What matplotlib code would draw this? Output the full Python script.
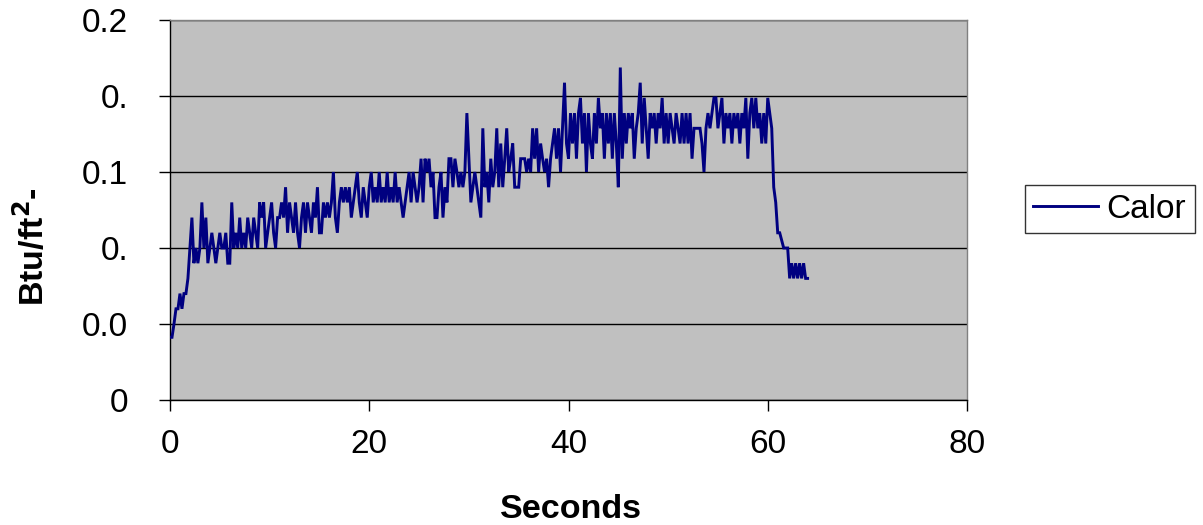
import numpy as np
import matplotlib
matplotlib.use("Agg")
import matplotlib.pyplot as plt

plt.rcParams['font.family'] = ['Liberation Sans', 'DejaVu Sans']

# Heat flux readings sampled every 0.2 s
sample_interval = 0.2
calor = [
    # 0 - 10 s
    0.033, 0.033, 0.040, 0.048, 0.048, 0.056, 0.048, 0.056, 0.056, 0.064,
    0.080, 0.096, 0.072, 0.080, 0.072, 0.080, 0.104, 0.080, 0.096, 0.072,
    0.080, 0.088, 0.080, 0.072, 0.080, 0.088, 0.080, 0.080, 0.088, 0.072,
    0.072, 0.104, 0.080, 0.088, 0.080, 0.096, 0.080, 0.088, 0.080, 0.096,
    0.088, 0.080, 0.096, 0.088, 0.080, 0.104, 0.096, 0.104, 0.080, 0.088,
    0.096,
    # 10.2 - 20.2 s
    0.104, 0.088, 0.080, 0.096, 0.096, 0.104, 0.096, 0.112, 0.088, 0.104,
    0.096, 0.088, 0.104, 0.088, 0.080, 0.096, 0.104, 0.088, 0.104, 0.096,
    0.088, 0.104, 0.096, 0.112, 0.088, 0.088, 0.104, 0.096, 0.104, 0.096,
    0.104, 0.120, 0.096, 0.088, 0.104, 0.112, 0.104, 0.112, 0.104, 0.112,
    0.096, 0.104, 0.112, 0.120, 0.104, 0.096, 0.112, 0.104, 0.096, 0.112,
    0.120,
    # 20.4 - 31.0 s
    0.104, 0.112, 0.104, 0.120, 0.104, 0.112, 0.104, 0.120, 0.104, 0.112,
    0.104, 0.120, 0.104, 0.112, 0.104, 0.096, 0.104, 0.112, 0.120, 0.104,
    0.120, 0.112, 0.104, 0.112, 0.127, 0.104, 0.127, 0.120, 0.127, 0.112,
    0.120, 0.096, 0.096, 0.112, 0.120, 0.096, 0.112, 0.104, 0.127, 0.127,
    0.112, 0.127, 0.120, 0.112, 0.120, 0.112, 0.120, 0.151, 0.127, 0.104,
    0.112, 0.120, 0.112, 0.104,
    # 31.2 - 41.4 s
    0.096, 0.143, 0.112, 0.120, 0.104, 0.127, 0.112, 0.120, 0.143, 0.112,
    0.135, 0.112, 0.127, 0.143, 0.120, 0.127, 0.135, 0.112, 0.112, 0.112,
    0.127, 0.127, 0.127, 0.120, 0.127, 0.120, 0.143, 0.127, 0.143, 0.120,
    0.135, 0.127, 0.120, 0.127, 0.112, 0.127, 0.135, 0.143, 0.127, 0.143,
    0.120, 0.143, 0.167, 0.135, 0.127, 0.151, 0.135, 0.151, 0.127, 0.151,
    0.159, 0.135,
    # 41.6 - 51.6 s
    0.151, 0.120, 0.151, 0.135, 0.127, 0.151, 0.135, 0.159, 0.143, 0.151,
    0.127, 0.151, 0.135, 0.151, 0.127, 0.151, 0.135, 0.112, 0.175, 0.127,
    0.151, 0.135, 0.151, 0.143, 0.151, 0.127, 0.143, 0.151, 0.167, 0.135,
    0.159, 0.143, 0.127, 0.151, 0.143, 0.151, 0.135, 0.151, 0.143, 0.159,
    0.135, 0.151, 0.135, 0.151, 0.143, 0.135, 0.151, 0.143, 0.135, 0.151,
    0.135,
    # 51.8 - 64.0 s
    0.151, 0.135, 0.151, 0.127, 0.143, 0.143, 0.143, 0.143, 0.135, 0.120,
    0.143, 0.151, 0.143, 0.151, 0.159, 0.159, 0.143, 0.151, 0.159, 0.135,
    0.151, 0.143, 0.151, 0.135, 0.151, 0.143, 0.151, 0.135, 0.151, 0.143,
    0.159, 0.127, 0.151, 0.159, 0.143, 0.159, 0.143, 0.151, 0.135, 0.151,
    0.135, 0.159, 0.151, 0.143, 0.112, 0.104, 0.088, 0.088, 0.084, 0.080,
    0.080, 0.080, 0.064, 0.072, 0.064, 0.072, 0.064, 0.072, 0.064, 0.072,
    0.064, 0.064,
]
seconds = np.arange(len(calor)) * sample_interval

x_ticks = [0, 20, 40, 60, 80]
y_ticks = [0, 0.04, 0.08, 0.12, 0.16, 0.2]
y_tick_labels = ["0", "0.0", "0.", "0.1", "0.", "0.2"]

W, H = 1203, 525
fig = plt.figure(figsize=(W / 100, H / 100), dpi=100)
fig.patch.set_facecolor("white")
ax = fig.add_axes([170 / W, (H - 400) / H, 797 / W, 380 / H])
ax.set_facecolor("#c0c0c0")

ax.plot(seconds, calor, color="#000080", lw=2.1, label="Calor", zorder=3,
        solid_joinstyle="miter")

ax.set_xlim(0, 80)
ax.set_ylim(0, 0.2)
ax.set_xticks(x_ticks)
ax.set_yticks(y_ticks)
ax.set_yticklabels(y_tick_labels)
ax.grid(axis="y", color="black", lw=1.0, zorder=1)
ax.set_axisbelow(True)

for side in ("top", "right"):
    ax.spines[side].set_color("#808080")
    ax.spines[side].set_linewidth(1.0)
for side in ("left", "bottom"):
    ax.spines[side].set_color("black")
    ax.spines[side].set_linewidth(1.0)

ax.tick_params(axis="y", direction="out", length=8, width=1, pad=22, labelsize=24)
ax.tick_params(axis="x", direction="out", length=8, width=1, pad=13, labelsize=24)

fig.text(571 / W, 1 - 509 / H, "Seconds", ha="center", va="center",
         fontsize=24.5, fontweight="bold")
fig.text(32 / W, 1 - 247 / H, r"Btu/ft$^\mathbf{2}$-", ha="center", va="center",
         rotation=90, fontsize=24.5, fontweight="bold")

leg = fig.legend(loc="center left", bbox_to_anchor=(1025 / W, 1 - 209 / H),
                 fontsize=24, frameon=True, fancybox=False, shadow=False,
                 handlelength=1.95, handletextpad=0.25, borderpad=0.25,
                 borderaxespad=0)
leg.get_frame().set_edgecolor("black")
leg.get_frame().set_linewidth(1.0)

fig.savefig("out.png", dpi=100)
